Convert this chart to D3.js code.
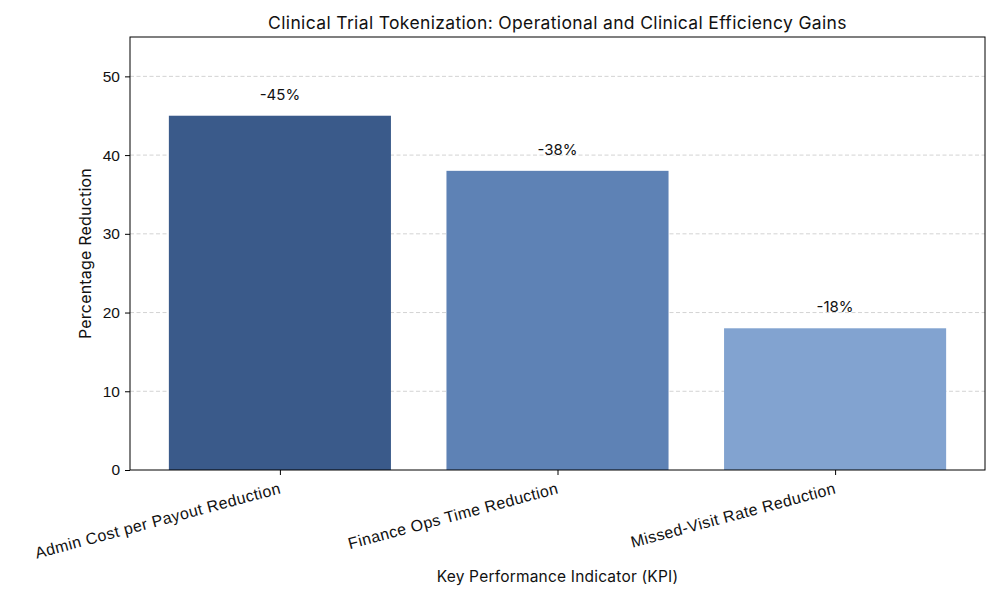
<!DOCTYPE html>
<html>
<head>
<meta charset="utf-8">
<script src="https://cdn.jsdelivr.net/npm/d3@7"></script>
<style>
  body { margin: 0; background: #fff; }
  svg { font-family: Inter, Roboto, "DejaVu Sans", sans-serif; }
</style>
</head>
<body>
<svg id="chart" width="1000" height="600"></svg>
<script>
// KPI categories and values (percentage reduction)
const kpis = ["Admin Cost per Payout Reduction", "Finance Ops Time Reduction", "Missed-Visit Rate Reduction"];
const reductions = [45, 38, 18];
const barLabels = ["-45%", "-38%", "-18%"];
const barColors = ["#3a5a8a", "#5e82b5", "#82a3d0"];
const yTicks = [0, 10, 20, 30, 40, 50];

const svg = d3.select("#chart");
const margin = { top: 37, right: 15, bottom: 130, left: 130 };
const width = 1000, height = 600;
const chartWidth = width - margin.left - margin.right;
const chartHeight = height - margin.top - margin.bottom;

const g = svg.append("g").attr("transform", `translate(${margin.left},${margin.top})`);

// bars at 0,1,2 with width 0.8 and 5% side margins
const x = d3.scaleLinear().domain([-0.54, 2.54]).range([0, chartWidth]);
const y = d3.scaleLinear().domain([0, 55]).range([chartHeight, 0]);

// grid
g.selectAll(".grid").data(yTicks.filter(d => d > 0)).enter().append("line")
  .attr("x1", 0).attr("x2", chartWidth)
  .attr("y1", d => y(d)).attr("y2", d => y(d))
  .attr("stroke", "#c8c8c8").attr("stroke-width", 0.8)
  .attr("stroke-dasharray", "4,2.5");

const data = kpis.map((k, i) => ({ kpi: k, value: reductions[i], label: barLabels[i], color: barColors[i], i }));

g.selectAll(".bar").data(data).enter().append("rect")
  .attr("x", d => x(d.i - 0.4))
  .attr("width", d => x(d.i + 0.4) - x(d.i - 0.4))
  .attr("y", d => y(d.value))
  .attr("height", d => chartHeight - y(d.value))
  .attr("fill", d => d.color);

g.selectAll(".val").data(data).enter().append("text")
  .attr("x", d => x(d.i))
  .attr("y", d => y(d.value) - 16)
  .attr("text-anchor", "middle")
  .style("font-size", "15px")
  .attr("fill", "#111")
  .text(d => d.label);

// frame
g.append("rect").attr("width", chartWidth).attr("height", chartHeight)
  .attr("fill", "none").attr("stroke", "#000").attr("stroke-width", 1);

// y axis
const yAxis = g.append("g").call(d3.axisLeft(y).tickValues(yTicks).tickSize(5).tickPadding(5));
yAxis.select(".domain").remove();
yAxis.selectAll("text").style("font-size", "15.5px").attr("fill", "#111");

// x axis
const xAxis = g.append("g").attr("transform", `translate(0,${chartHeight})`)
  .call(d3.axisBottom(x).tickValues([0, 1, 2]).tickFormat(i => kpis[i]).tickSize(5).tickPadding(4));
xAxis.select(".domain").remove();
xAxis.selectAll("text")
  .style("font-size", "16px").style("letter-spacing", "0.4px").attr("fill", "#111")
  .attr("text-anchor", "end")
  .attr("dx", "-0.3em")
  .attr("dy", "0.85em")
  .attr("transform", "rotate(-15)");

// titles
svg.append("text").attr("x", margin.left + chartWidth / 2).attr("y", 29)
  .attr("text-anchor", "middle").style("font-size", "17.5px").style("letter-spacing", "0.35px").attr("fill", "#111")
  .text("Clinical Trial Tokenization: Operational and Clinical Efficiency Gains");

svg.append("text").attr("x", margin.left + chartWidth / 2).attr("y", 582)
  .attr("text-anchor", "middle").style("font-size", "15.5px").style("letter-spacing", "0.2px").attr("fill", "#111")
  .text("Key Performance Indicator (KPI)");

svg.append("text")
  .attr("transform", `translate(91,${margin.top + chartHeight / 2}) rotate(-90)`)
  .attr("text-anchor", "middle").style("font-size", "16px").style("letter-spacing", "0.2px").attr("fill", "#111")
  .text("Percentage Reduction");
</script>
</body>
</html>
